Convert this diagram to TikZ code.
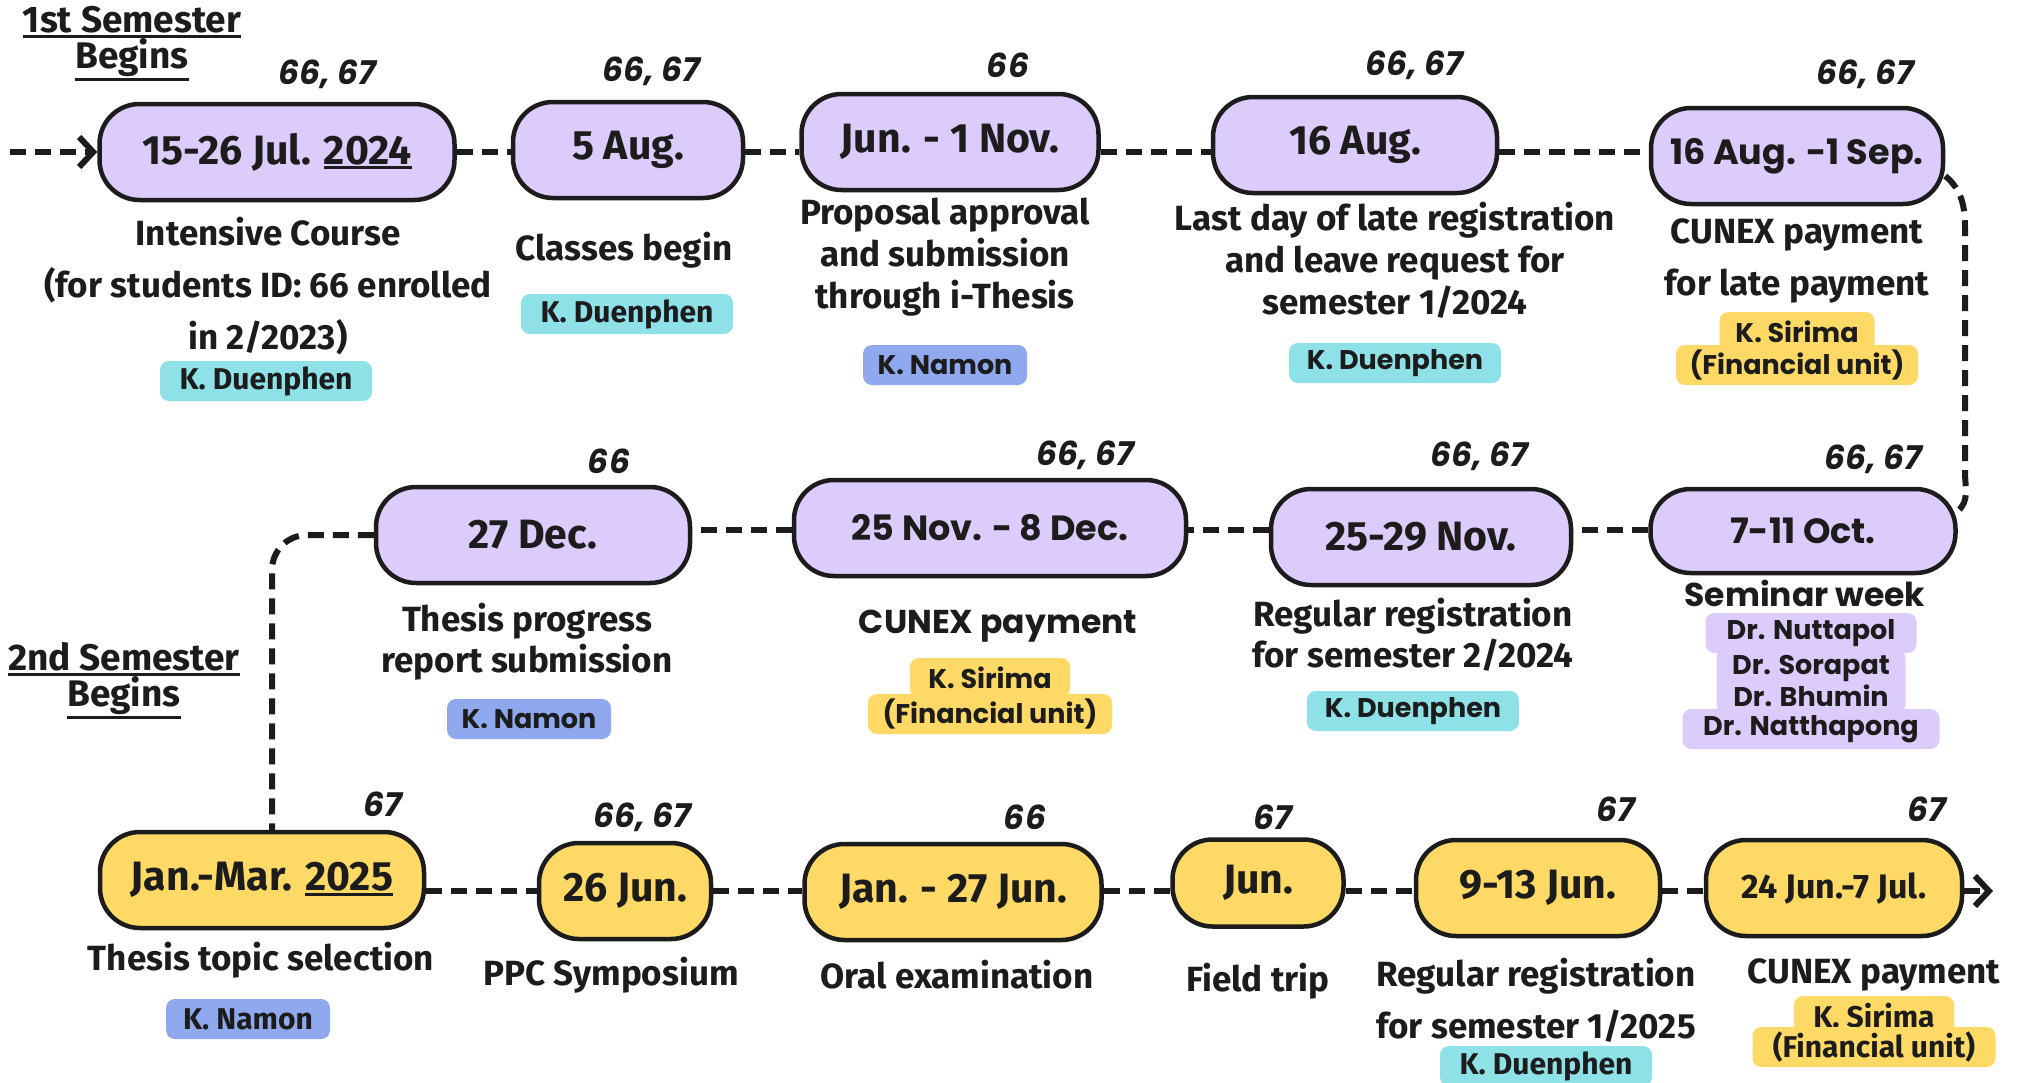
\documentclass[tikz,border=0pt]{standalone}
\usepackage{fontspec}
\usetikzlibrary{arrows.meta}
\newfontfamily\spfont{Fira Sans}
\newfontfamily\mofont{Poppins}
\definecolor{ink}{HTML}{1C1C1C}
\definecolor{lav}{HTML}{DCCCFC}
\definecolor{yel}{HTML}{FFD966}
\definecolor{cyanT}{HTML}{8DE1E7}
\definecolor{blueT}{HTML}{8FA8EE}
\newcommand{\ulx}[1]{\vtop{\hbox{#1}\kern1.5pt\hrule height 3pt}}
\tikzset{
  evbox/.style={draw=ink, line width=4.5pt, rounded corners=40pt, text=ink, inner sep=0pt, minimum height=96pt},
  pur/.style={evbox, fill=lav},
  gold/.style={evbox, fill=yel},
  spbig/.style={font=\spfont\bfseries\fontsize{41}{48}\selectfont},
  mobig/.style={font=\mofont\bfseries\fontsize{35}{42}\selectfont},
  yr/.style={text=ink, font=\mofont\bfseries\itshape\fontsize{33}{38}\selectfont},
  desc/.style={text=ink, align=center, font=\spfont\bfseries\fontsize{35}{#1}\selectfont},
  desc/.default=52,
  mdesc/.style={text=ink, align=center, font=\mofont\bfseries\fontsize{33}{40}\selectfont},
  sem/.style={text=ink, align=center, font=\spfont\bfseries\fontsize{37}{36}\selectfont},
  tag/.style={text=ink, rounded corners=9pt, inner sep=0pt, minimum height=40pt},
  duen/.style={tag, fill=cyanT, minimum width=212pt},
  namon/.style={tag, fill=blueT, minimum width=164pt},
  tsp/.style={font=\spfont\bfseries\fontsize{30}{36}\selectfont},
  tmo/.style={font=\mofont\bfseries\fontsize{27}{32}\selectfont},
  link/.style={draw=ink, line width=6pt, dash pattern=on 16pt off 9pt},
  tip/.style={-{Straight Barb[length=14pt,width=30pt]}},
}
\begin{document}
\begin{tikzpicture}[x=1pt,y=-1pt]
\useasboundingbox (0,0) rectangle (2027,1082);
\fill[white] (0,0) rectangle (2027,1082);

\node[sem] (sem1) at (132,44) {\ulx{1st Semester}\\\ulx{Begins}};
\node[sem] (sem2) at (124,681) {\ulx{2nd Semester}\\\ulx{Begins}};

% first row
\node[pur, spbig, minimum width=355pt] (jul) at (277,152) {15-26 Jul. \ulx{2024}};
\node[pur, spbig, minimum width=230pt] (aug) at (628,150) {5 Aug.};
\node[pur, spbig, minimum width=297pt] (nov) at (950,142) {Jun. - 1 Nov.};
\node[pur, spbig, minimum width=284pt] (late) at (1355,145) {16 Aug.};
\node[pur, mobig, minimum width=292pt] (sep) at (1797,156) {16 Aug. -1 Sep.};

\node[desc] (dJul) at (268,286) {Intensive Course\\(for students ID: 66 enrolled\\in 2/2023)};
\node[desc] (dAug) at (624,250) {Classes begin};
\node[desc=42] (dNov) at (945,257) {Proposal approval\\and submission\\through i-Thesis};
\node[desc=42] (dLate) at (1395,260) {Last day of late registration\\and leave request for\\semester 1/2024};
\node[desc] (dSep) at (1797,261) {CUNEX payment\\for late payment};

\node[duen, tsp] (tJul) at (266,381) {K. Duenphen};
\node[duen, tsp] (tAug) at (627,314) {K. Duenphen};
\node[namon, tmo] (tNov) at (945,365) {K. Namon};
\node[duen, tmo] (tLate) at (1395,363) {K. Duenphen};
\node[tag, fill=yel, tmo, minimum width=155pt] (tSepA) at (1797,332) {K. Sirima};
\node[tag, fill=yel, tmo, minimum width=242pt] (tSepB) at (1797,365) {(Financial unit)};

% second row
\node[pur, mobig, minimum width=305pt, minimum height=84pt] (oct) at (1803,531) {7-11 Oct.};
\node[pur, spbig, minimum width=300pt] (reg2) at (1421,537) {25-29 Nov.};
\node[pur, mobig, minimum width=392pt] (cunex2) at (990,528) {25 Nov. - 8 Dec.};
\node[pur, spbig, minimum width=314pt] (dec) at (533,535) {27 Dec.};

\node[mdesc] (dOct) at (1805,593) {Seminar week};
\node[desc=41] (dReg2) at (1413,635) {Regular registration\\for semester 2/2024};
\node[mdesc] (dCunex2) at (998,626) {CUNEX payment};
\node[desc=41] (dDec) at (527,642) {Thesis progress\\report submission};

\node[tag, fill=lav, tmo, minimum width=211pt] (drA) at (1811,633) {Dr. Nuttapol};
\node[tag, fill=lav, tmo, minimum width=189pt, minimum height=64pt, align=center] (drB) at (1811,681) {Dr. Sorapat\\Dr. Bhumin};
\node[tag, fill=lav, tmo, minimum width=257pt] (drC) at (1811,729) {Dr. Natthapong};
\node[duen, tmo] (tReg2) at (1413,711) {K. Duenphen};
\node[tag, fill=yel, tmo, minimum width=160pt] (tCunA) at (990,678) {K. Sirima};
\node[tag, fill=yel, tmo, minimum width=244pt] (tCunB) at (990,714) {(Financial unit)};
\node[namon, tmo] (tDec) at (529,719) {K. Namon};

% third row
\node[gold, spbig, minimum width=324pt] (topic) at (262,880) {Jan.-Mar. \ulx{2025}};
\node[gold, spbig, minimum width=172pt] (ppc) at (625,891) {26 Jun.};
\node[gold, spbig, minimum width=297pt] (oral) at (953,892) {Jan. - 27 Jun.};
\node[gold, spbig, minimum width=171pt, minimum height=87pt] (trip) at (1258,883) {Jun.};
\node[gold, spbig, minimum width=244pt] (reg3) at (1538,888) {9-13 Jun.};
\node[gold, spbig, minimum width=256pt] (cunex3) at (1834,888) {\fontsize{34}{40}\selectfont 24 Jun.-7 Jul.};

\node[desc] (dTopic) at (261,960) {Thesis topic selection};
\node[desc] (dPpc) at (611,975) {PPC Symposium};
\node[desc] (dOral) at (957,975) {Oral examination};
\node[desc] (dTrip) at (1258,981) {Field trip};
\node[desc] (dReg3) at (1536,1000) {Regular registration\\for semester 1/2025};
\node[desc] (dCunex3) at (1874,975) {CUNEX payment};

\node[namon, tsp] (tTopic) at (248,1019) {K. Namon};
\node[duen, tsp] (tReg3) at (1546,1066) {K. Duenphen};
\node[tag, fill=yel, tsp, minimum width=160pt] (tC3A) at (1874,1016) {K. Sirima};
\node[tag, fill=yel, tsp, minimum width=243pt] (tC3B) at (1874,1047) {(Financial unit)};

\foreach \n/\x/\y/\t in {jul/327/74/{66, 67}, aug/651/71/{66, 67}, nov/1008/65/66, late/1414/65/{66, 67}, sep/1865/74/{66, 67},
    oct/1873/459/{66, 67}, reg2/1479/456/{66, 67}, cunex2/1085/455/{66, 67}, dec/609/461/66,
    topic/383/804/67, ppc/642/817/{66, 67}, oral/1025/817/66, trip/1273/817/67, reg3/1616/809/67, cunex3/1927/809/67}
  \node[yr] (y\n) at (\x,\y) {\t};

% connectors
\coordinate (rowA) at (0,152);
\coordinate (rowB) at (0,530);
\coordinate (rowC) at (0,891);
\coordinate (entry) at (10,152);
\coordinate (bendTop) at (1965,228);
\coordinate (bendBot) at (1965,472);
\coordinate (exit) at (1993,891);
\draw[link, tip] (entry) -- (jul.west);
\foreach \a/\b in {jul/aug, aug/nov, nov/late, late/sep}
  \draw[link] (\a.east |- rowA) -- (\b.west |- rowA);
\foreach \a/\b in {topic/ppc, ppc/oral, oral/trip, trip/reg3, reg3/cunex3}
  \draw[link] (\a.east |- rowC) -- (\b.west |- rowC);
\foreach \a/\b in {oct/reg2, reg2/cunex2, cunex2/dec}
  \draw[link] (\a.west |- rowB) -- (\b.east |- rowB);
\draw[link] ([yshift=-20pt]sep.east) to[out=-40,in=90] (bendTop) -- (bendBot) to[out=-90,in=40] ([yshift=20pt]oct.east);
\draw[link, rounded corners=35pt] (dec.west) -| ([xshift=10pt]topic.north);
\draw[link, tip] (cunex3.east |- rowC) -- (exit);
\end{tikzpicture}
\end{document}
